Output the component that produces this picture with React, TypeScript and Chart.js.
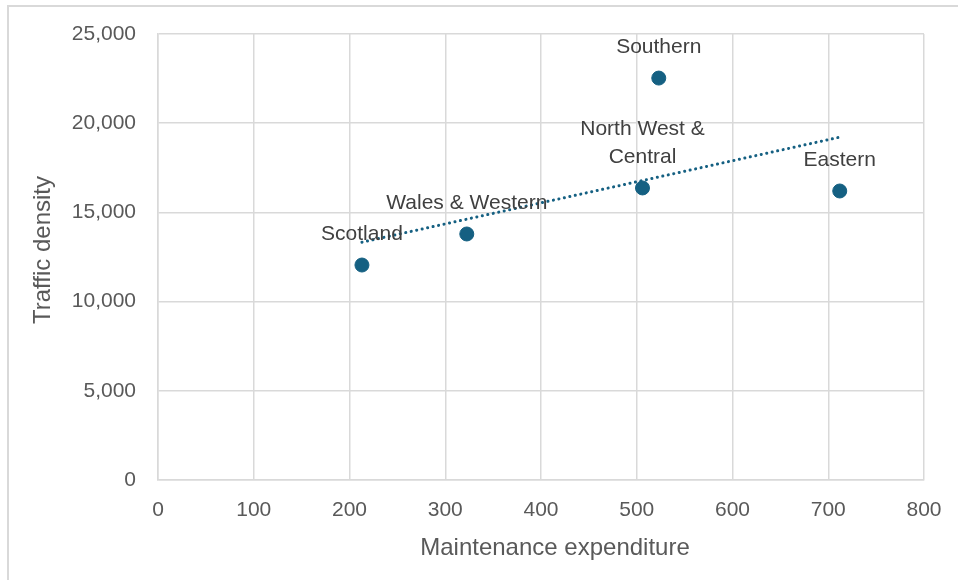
import React, { useEffect, useRef } from "react";
import { Chart, registerables } from "chart.js";

Chart.register(...registerables);

const regions: string[][] = [["Scotland"], ["Wales & Western"], ["North West &", "Central"], ["Southern"], ["Eastern"]];
const expenditure = [213, 322.5, 506, 523, 712];
const trafficDensity = [12050, 13790, 16370, 22530, 16200];
const xTicks = [0, 100, 200, 300, 400, 500, 600, 700, 800];
const yTicks = [0, 5000, 10000, 15000, 20000, 25000];
const xTitle = "Maintenance expenditure";
const yTitle = "Traffic density";

const ACCENT = "#156082";
const FONT = '"Liberation Sans", Arial, sans-serif';

function regression(xs: number[], ys: number[]) {
  const n = xs.length;
  const mx = xs.reduce((a, b) => a + b, 0) / n;
  const my = ys.reduce((a, b) => a + b, 0) / n;
  let sxy = 0, sxx = 0;
  for (let i = 0; i < n; i++) {
    sxy += (xs[i] - mx) * (ys[i] - my);
    sxx += (xs[i] - mx) ** 2;
  }
  const slope = sxy / sxx;
  return { slope, intercept: my - slope * mx };
}

const framePlugin = {
  id: "frame",
  beforeDraw(chart: any) {
    const ctx = chart.ctx;
    ctx.save();
    ctx.strokeStyle = "#d9d9d9";
    ctx.lineWidth = 2;
    ctx.beginPath();
    ctx.moveTo(8, chart.height);
    ctx.lineTo(8, 6);
    ctx.lineTo(chart.width, 6);
    ctx.stroke();
    ctx.restore();
  },
};

const labelPlugin = {
  id: "pointLabels",
  afterDatasetsDraw(chart: any) {
    const meta = chart.getDatasetMeta(0);
    const ctx = chart.ctx;
    ctx.save();
    ctx.font = "21px " + FONT;
    ctx.fillStyle = "#404040";
    ctx.textAlign = "center";
    ctx.textBaseline = "middle";
    meta.data.forEach((pt: any, i: number) => {
      const lines = regions[i];
      const lh = 28;
      lines.forEach((line, j) => {
        const y = pt.y - 31 - (lines.length - 1 - j) * lh;
        ctx.fillText(line, pt.x, y);
      });
    });
    ctx.restore();
  },
};

const titlePlugin = {
  id: "axisTitles",
  afterDraw(chart: any) {
    const ctx = chart.ctx;
    const a = chart.chartArea;
    ctx.save();
    ctx.font = "24px " + FONT;
    ctx.fillStyle = "#595959";
    ctx.textAlign = "center";
    ctx.textBaseline = "middle";
    ctx.fillText(xTitle, (a.left + a.right) / 2 + 14, chart.height - 32);
    ctx.translate(43, (a.top + a.bottom) / 2 - 7);
    ctx.rotate(-Math.PI / 2);
    ctx.fillText(yTitle, 0, 0);
    ctx.restore();
  },
};

export default function App() {
  const ref = useRef<HTMLCanvasElement>(null);
  useEffect(() => {
    document.body.style.margin = "0";
    const { slope, intercept } = regression(expenditure, trafficDensity);
    const xMin = Math.min(...expenditure);
    const xMax = Math.max(...expenditure);
    const chart = new Chart(ref.current!, {
      type: "scatter",
      data: {
        datasets: [
          {
            label: "Regions",
            data: expenditure.map((x, i) => ({ x, y: trafficDensity[i] })),
            backgroundColor: ACCENT,
            borderColor: ACCENT,
            pointRadius: 7,
            pointHoverRadius: 7,
            order: 1,
          },
          {
            type: "line",
            label: "Trend",
            data: [
              { x: xMin, y: slope * xMin + intercept },
              { x: xMax, y: slope * xMax + intercept },
            ],
            borderColor: ACCENT,
            borderWidth: 3,
            borderDash: [0.1, 5.5],
            borderCapStyle: "round",
            pointRadius: 0,
            fill: false,
            order: 2,
          } as any,
        ],
      },
      options: {
        animation: false,
        responsive: false,
        layout: { padding: { top: 34, right: 34, left: 0, bottom: 0 } },
        plugins: { legend: { display: false }, tooltip: { enabled: false } },
        scales: {
          x: {
            type: "linear",
            min: 0,
            max: 800,
            afterBuildTicks: (s: any) => { s.ticks = xTicks.map((v) => ({ value: v })); },
            afterFit: (s: any) => {
              s.height = 100;
              s.paddingLeft = 0;
              s.paddingRight = 0;
            },
            grid: { color: "#d9d9d9", lineWidth: 1.5, drawTicks: false },
            border: { color: "#d9d9d9", width: 1.5 },
            ticks: {
              padding: 18,
              color: "#595959",
              font: { family: FONT, size: 21 },
            },
          },
          y: {
            type: "linear",
            min: 0,
            max: 25000,
            afterBuildTicks: (s: any) => { s.ticks = yTicks.map((v) => ({ value: v })); },
            afterFit: (s: any) => {
              s.width = 158;
              s.paddingTop = 0;
              s.paddingBottom = 0;
            },
            grid: { color: "#d9d9d9", lineWidth: 1.5, drawTicks: false },
            border: { color: "#d9d9d9", width: 1.5 },
            ticks: {
              padding: 22,
              color: "#595959",
              font: { family: FONT, size: 21 },
              callback: (v: any) => Number(v).toLocaleString("en-US"),
            },
          },
        },
      },
      plugins: [framePlugin, labelPlugin, titlePlugin],
    });
    return () => chart.destroy();
  }, []);

  return (
    <div style={{ width: 958, height: 580, overflow: "hidden" }}>
      <canvas ref={ref} width={958} height={580} style={{ display: "block" }} />
    </div>
  );
}
